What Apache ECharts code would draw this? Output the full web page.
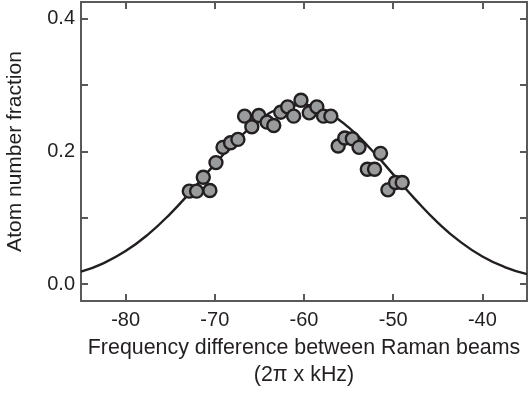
<!DOCTYPE html>
<html>
<head>
<meta charset="utf-8">
<script src="https://cdn.jsdelivr.net/npm/echarts@6/dist/echarts.min.js"></script>
<style>html,body{margin:0;padding:0;background:#fff}#c{width:528px;height:395px}</style>
</head>
<body>
<div id="c"></div>
<script>
// Measured points
var pointX = [-72.86, -72.04, -70.55, -71.29, -69.87, -69.08, -68.23, -67.41, -66.66, -65.85,
              -65.07, -64.14, -63.39, -62.61, -61.83, -61.16, -60.34, -59.41, -58.56, -57.81,
              -56.99, -56.17, -55.43, -54.58, -53.83, -52.90, -52.09, -51.42, -50.59, -49.74, -48.99];
var pointY = [0.140, 0.140, 0.141, 0.161, 0.183, 0.206, 0.213, 0.218, 0.253, 0.237,
              0.254, 0.244, 0.239, 0.259, 0.267, 0.253, 0.277, 0.258, 0.267, 0.253,
              0.253, 0.208, 0.220, 0.219, 0.206, 0.173, 0.173, 0.197, 0.142, 0.153, 0.153];
// Fit curve
var curveX = [-85, -82.5, -80, -77.5, -75, -72.5, -70, -67.5, -65, -62.5, -60,
              -57.5, -55, -52.5, -50, -47.5, -45, -42.5, -40, -37.5, -35];
var curveY = [0.0187, 0.0313, 0.0497, 0.0746, 0.1059, 0.1423, 0.1807, 0.2171, 0.2467, 0.2652, 0.2697,
              0.2594, 0.2360, 0.2031, 0.1653, 0.1273, 0.0927, 0.0639, 0.0416, 0.0257, 0.0150];
var xTicks = [-80, -70, -60, -50, -40];
var yTicks = [0, 0.1, 0.2, 0.3, 0.4];
var yLabels = [0, 0.2, 0.4];

var axisCol = '#58595b';
var textCol = '#231f20';
var font = 'Liberation Sans';

function pairs(xs, ys){ return xs.map(function(x,i){ return [x, ys[i]]; }); }

var chart = echarts.init(document.getElementById('c'), null, {renderer:'canvas'});
var commonLine = {show:true, onZero:false, lineStyle:{color:axisCol, width:2}};
chart.setOption({
  animation:false,
  grid:{left:81, right:1, top:2, bottom:94, containLabel:false, outerBoundsMode:'none'},
  xAxis:[{
    type:'value', min:-85, max:-35, position:'bottom',
    axisLine:commonLine,
    axisTick:{show:true, inside:true, length:7, customValues:xTicks, lineStyle:{color:axisCol, width:2}},
    axisLabel:{show:true, customValues:xTicks, margin:9, color:textCol, fontFamily:font, fontSize:20,
      formatter:function(v){return String(v);}},
    splitLine:{show:false},
    name:'Frequency difference between Raman beams\n(2π x kHz)',
    nameLocation:'middle', nameGap:32,
    nameTextStyle:{color:textCol, fontFamily:font, fontSize:21.4, lineHeight:27}
  },{
    type:'value', min:-85, max:-35, position:'top',
    axisLine:commonLine,
    axisTick:{show:true, inside:true, length:7, customValues:xTicks, lineStyle:{color:axisCol, width:2}},
    axisLabel:{show:false}, splitLine:{show:false}
  }],
  yAxis:[{
    type:'value', min:-0.0255, max:0.425, position:'left',
    axisLine:commonLine,
    axisTick:{show:true, inside:true, length:7, customValues:yTicks, lineStyle:{color:axisCol, width:2}},
    axisLabel:{show:true, customValues:yLabels, margin:6, color:textCol, fontFamily:font, fontSize:20,
      formatter:function(v){return v.toFixed(1);}},
    splitLine:{show:false},
    name:'Atom number fraction', nameLocation:'middle', nameGap:55, nameRotate:90,
    nameTextStyle:{color:textCol, fontFamily:font, fontSize:21}
  },{
    type:'value', min:-0.0255, max:0.425, position:'right',
    axisLine:commonLine,
    axisTick:{show:true, inside:true, length:7, customValues:yTicks, lineStyle:{color:axisCol, width:2}},
    axisLabel:{show:false}, splitLine:{show:false}
  }],
  series:[{
    type:'line', data:pairs(curveX, curveY), smooth:true, showSymbol:false, z:2,
    lineStyle:{color:textCol, width:2.4}, clip:true
  },{
    type:'scatter', data:pairs(pointX, pointY), symbol:'circle', symbolSize:13, z:3,
    itemStyle:{color:'#9a9b9d', borderColor:textCol, borderWidth:2.4, opacity:1}
  }]
});
</script>
</body>
</html>
